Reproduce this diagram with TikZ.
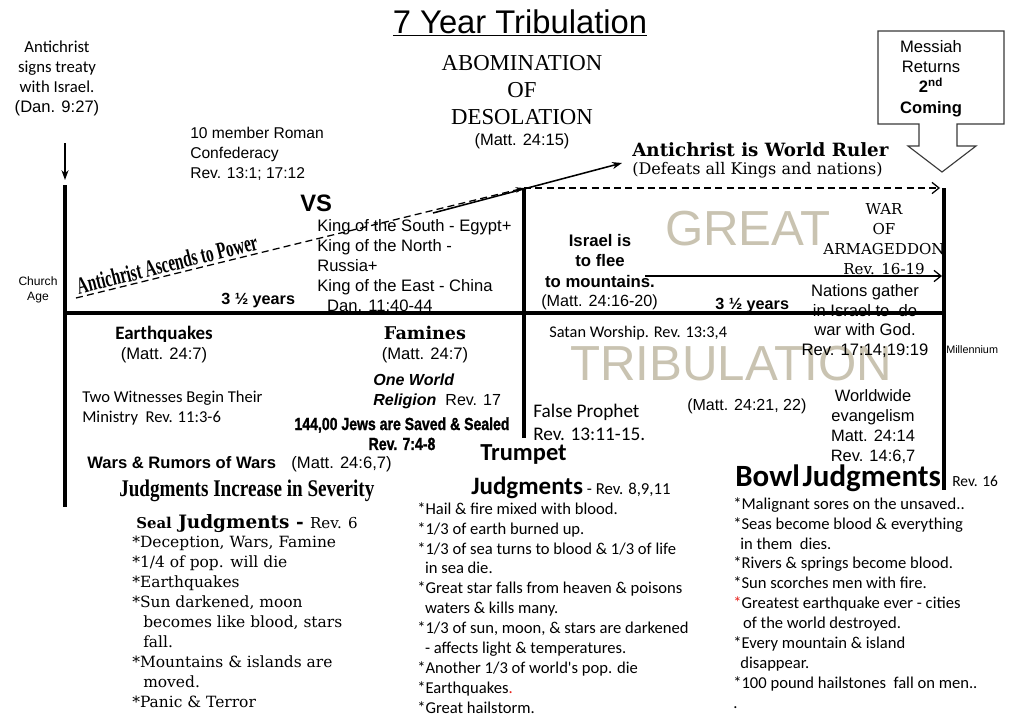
\documentclass[tikz,border=0pt]{standalone}
\usepackage{fontspec}
\setmainfont{Liberation Sans}
\newfontfamily\calibri{Carlito}
\newfontfamily\timesf{Liberation Serif}
\newfontfamily\bookman{DejaVu Serif}
\newfontfamily\impactf[FakeStretch=0.8,FakeBold=1.2]{Liberation Sans Bold}
\newfontfamily\bernard[FakeStretch=0.8]{Liberation Serif Bold}
\newfontfamily\bernardN[FakeStretch=0.64]{Liberation Serif Bold}
\usepackage{tikz}
\usetikzlibrary{calc,positioning,arrows.meta}
\definecolor{trText}{HTML}{000000}
\definecolor{trGhost}{HTML}{C9C3B1}
\definecolor{trRed}{HTML}{E8201A}
\definecolor{trEdge}{HTML}{3A3A3A}
\newcommand{\fsz}[2]{\fontsize{#1}{#2}\selectfont}
\tikzset{
  txt/.style={inner sep=0pt, anchor=north west, align=left, text=trText},
  ctxt/.style={inner sep=0pt, anchor=north, align=center, text=trText},
  ghost/.style={inner sep=0pt, anchor=north, text=trGhost, font=\fsz{35}{40}},
  timeline/.style={line width=3pt},
  dashlink/.style={dashed, dash pattern=on 5pt off 3pt, line width=0.9pt},
  solidlink/.style={line width=1.1pt}
}

\begin{document}
\begin{tikzpicture}[x=0.025cm, y=-0.025cm]
  \fill[white] (0,0) rectangle (1016,718);
  \useasboundingbox (0,0) rectangle (1016,718);

  \node[ghost] (great) at (748,211) {GREAT};
  \node[ghost] (tribulation) at (731,346) {TRIBULATION};

  \node[ctxt, font=\fsz{23.3}{28}] (title) at (520,9) {\underline{7 Year Tribulation}};
  \node[ctxt, font=\timesf\fsz{16.2}{19.2}] (abom) at (522,55) {ABOMINATION\\OF\\DESOLATION};
  \node[ctxt, font=\fsz{11.7}{14}] (abomref) at (522,133) {(Matt. 24:15)};

  \node[ctxt, font=\calibri\fsz{11.9}{14.2}] (treaty) at (57,41) {Antichrist\\signs treaty\\with Israel.\\{\rmfamily\fsz{11.8}{14.2}(Dan. 9:27)}};
  \node[txt, font=\fsz{11.1}{14.2}] (roman) at (190,127) {10 member Roman\\Confederacy\\Rev. 13:1; 17:12};
  \node[txt, font=\bfseries\fsz{16.9}{20}] (vs) at (300,195) {VS};
  \node[txt, font=\fsz{11.8}{14.2}] (kings) at (317,219) {King of the South - Egypt+\\King of the North -\\Russia+\\King of the East - China\\\hspace*{7pt}Dan. 11:40-44};
  \node[font=\bernardN\fsz{17}{19}, rotate=14, inner sep=0pt] (ascend) at (167,264) {Antichrist Ascends to Power};
  \node[ctxt, font=\fsz{8.6}{10.7}] (church) at (38,276) {Church\\Age};
  \node[txt, font=\bfseries\fsz{11.5}{14}] (halfA) at (221,293) {3 ½ years};

  \node[ctxt, font=\fsz{11.8}{14.4}] (messiah) at (931,40) {Messiah\\Returns\\\textbf{2\textsuperscript{nd}}\\\textbf{Coming}};
  \node[txt, font=\bookman\bfseries\fsz{13}{16}] (ruler) at (632,142) {Antichrist is World Ruler};
  \node[txt, font=\bookman\fsz{11.4}{14}] (defeats) at (632,162) {(Defeats all Kings and nations)};

  \node[ctxt, font=\bfseries\fsz{11.9}{14.6}] (israel) at (600,234) {Israel is\\to flee\\to mountains.};
  \node[txt, font=\fsz{11.5}{14}] (fleeref) at (541,294) {(Matt. 24:16-20)};
  \node[txt, font=\bfseries\fsz{11.5}{14}] (halfB) at (715,298) {3 ½ years};
  \node[ctxt, font=\bookman\fsz{10.7}{14.2}] (war) at (884,203) {WAR\\OF\\ARMAGEDDON\\Rev. 16-19};
  \node[ctxt, font=\fsz{11.8}{14}] (nations) at (865,284) {Nations gather\\in Israel to\ \ do\\war with God.\\Rev. 17:14;19:19};
  \node[txt, font=\fsz{7.7}{9}] (millennium) at (946,345) {Millennium};

  \node[ctxt, font=\calibri\bfseries\fsz{13.5}{16}] (quakes) at (164,326) {Earthquakes};
  \node[ctxt, font=\fsz{11.8}{14}] (quakesref) at (164,347) {(Matt. 24:7)};
  \node[ctxt, font=\bookman\bfseries\fsz{12.5}{15}] (famines) at (425,326) {Famines};
  \node[ctxt, font=\fsz{11.8}{14}] (faminesref) at (425,347) {(Matt. 24:7)};
  \node[txt, font=\calibri\fsz{11.6}{14}] (satan) at (549,326) {Satan Worship. Rev. 13:3,4};

  \node[txt, font=\fsz{11.4}{14.2}] (religion) at (373,374) {\textbf{\textit{One World}}\\\textbf{\textit{Religion}}\ \ Rev. 17};
  \node[txt, font=\calibri\fsz{11.8}{14.2}] (witness) at (82,391) {Two Witnesses Begin Their\\Ministry\ \ Rev. 11:3-6};
  \node[ctxt, font=\impactf\fsz{12.5}{14.2}] (sealed) at (402,417) {144,00 Jews are Saved \& Sealed\\Rev. 7:4-8};
  \node[txt, font=\fsz{11.8}{14}] (wars) at (87,456) {\textbf{Wars \& Rumors of Wars}\hspace{11pt}(Matt. 24:6,7)};
  \node[txt, font=\bernard\fsz{17}{19}] (severity) at (119,480) {Judgments Increase in Severity};

  \node[txt, font=\calibri\fsz{13.7}{16.4}] (prophet) at (533,404) {False Prophet\\Rev. 13:11-15.};
  \node[txt, font=\fsz{11.4}{14}] (greatref) at (687,399) {(Matt. 24:21, 22)};
  \node[ctxt, font=\fsz{11.7}{14.2}] (gospel) at (873,389) {Worldwide\\evangelism\\Matt. 24:14\\Rev. 14:6,7};

  \node[txt, font=\calibri\bfseries\fsz{17.4}{21}] (trumpet) at (480,444) {Trumpet};
  \node[txt, font=\calibri\bfseries\fsz{17.8}{21}] (trumpetJ) at (471,477) {Judgments{\mdseries\fsz{11.9}{14} - Rev. 8,9,11}};
  \node[txt, font=\calibri\fsz{11.8}{14.2}] (trumpetList) at (417,502) {*Hail \& fire mixed with blood.\\{}*1/3 of earth burned up.\\{}*1/3 of sea turns to blood \& 1/3 of life\\\hspace*{5.5pt}in sea die.\\{}*Great star falls from heaven \& poisons\\\hspace*{5.5pt}waters \& kills many.\\{}*1/3 of sun, moon, \& stars are darkened\\\hspace*{5.5pt}- affects light \& temperatures.\\{}*Another 1/3 of world's pop. die\\{}*Earthquakes\textcolor{trRed}{.}\\{}*Great hailstorm.};

  \node[txt, font=\calibri\bfseries\fsz{22}{26}] (bowl) at (735,465) {Bowl\hspace{2pt}Judgments};
  \node[anchor=base west, inner sep=0pt, font=\calibri\fsz{11}{13}] (bowlref) at (952,486) {Rev. 16};
  \node[txt, font=\calibri\fsz{11.8}{14.2}] (bowlList) at (733,497) {*Malignant sores on the unsaved..\\{}*Seas become blood \& everything\\\hspace*{5pt}in them\ \ dies.\\{}*Rivers \& springs become blood.\\{}*Sun scorches men with fire.\\\textcolor{trRed}{*}Greatest earthquake ever - cities\\\hspace*{7pt}of the world destroyed.\\{}*Every mountain \& island\\\hspace*{5pt}disappear.\\{}*100 pound hailstones\ \ fall on men..\\.};

  \node[txt, font=\bookman\bfseries\fsz{13.1}{16}] (seal) at (136,514) {{\fsz{10.6}{13}Seal} Judgments - {\mdseries\fsz{10.7}{13}Rev. 6}};
  \node[txt, font=\bookman\fsz{11}{14.2}] (sealList) at (132,536) {*Deception, Wars, Famine\\{}*1/4 of pop. will die\\{}*Earthquakes\\{}*Sun darkened, moon\\\hspace*{7.8pt}becomes like blood, stars\\\hspace*{7.8pt}fall.\\{}*Mountains \& islands are\\\hspace*{7.8pt}moved.\\{}*Panic \& Terror};

  \coordinate (startTop) at (65,185);
  \coordinate (startBot) at (65,507);
  \coordinate (midTop) at (524,188);
  \coordinate (midBot) at (524,438);
  \coordinate (endTop) at (944,188);
  \coordinate (endBot) at (944,490);
  \coordinate (axisL) at (63,313);
  \coordinate (axisR) at (946,313);
  \draw[timeline] (startTop) -- (startBot);
  \draw[timeline] (midTop) -- (midBot);
  \draw[timeline] (endTop) -- (endBot);
  \draw[timeline] (axisL) -- (axisR);

  \coordinate (treatyFrom) at (65,143);
  \coordinate (treatyTo) at (65,180);
  \draw[solidlink, -{Stealth[length=7pt,width=5pt]}] (treatyFrom) -- (treatyTo);

  \coordinate (ascendFrom) at (76,298);
  \draw[dashlink, -{Stealth[length=6pt,width=4pt]}] (ascendFrom) -- (midTop);
  \coordinate (rulerFrom) at (433,213);
  \coordinate (rulerTo) at (622,163);
  \draw[solidlink, -{Stealth[length=7pt,width=5pt]}] (rulerFrom) -- (rulerTo);
  \coordinate (reignTo) at (940,188);
  \draw[dashlink, -{Straight Barb[length=5pt,width=8pt]}] (midTop) -- (reignTo);
  \coordinate (fleeFrom) at (645,276);
  \coordinate (fleeTo) at (942,276);
  \draw[line width=0.9pt, -{Straight Barb[length=5pt,width=8pt]}] (fleeFrom) -- (fleeTo);

  \draw[trEdge, line width=0.8pt] (878,31) -- (1004,31) -- (1004,124) -- (957,124) -- (957,146)
    -- (976,146) -- (942,172) -- (908,146) -- (919,146) -- (919,124) -- (878,124) -- cycle;
\end{tikzpicture}
\end{document}
